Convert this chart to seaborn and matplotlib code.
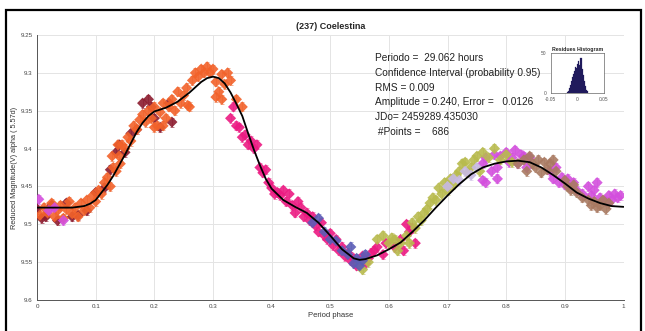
import pandas as pd
import numpy as np
import matplotlib
matplotlib.use("Agg")
import matplotlib.pyplot as plt
import seaborn as sns
from matplotlib.patches import Rectangle

# fitted Fourier curve
fit_phase = [0, 0.02, 0.04, 0.06, 0.08, 0.09, 0.1, 0.11, 0.12, 0.13, 0.14, 0.15, 0.16, 0.17,
             0.18, 0.19, 0.2, 0.22, 0.24, 0.26, 0.28, 0.29, 0.30, 0.31, 0.32, 0.33, 0.34, 0.35,
             0.36, 0.37, 0.38, 0.39, 0.40, 0.42, 0.44, 0.46, 0.48, 0.50, 0.52, 0.54, 0.55, 0.56,
             0.58, 0.60, 0.62, 0.64, 0.66, 0.68, 0.70, 0.72, 0.74, 0.76, 0.78, 0.80, 0.82, 0.84,
             0.86, 0.88, 0.90, 0.92, 0.94, 0.96, 0.98, 1.0]
fit_mag = [9.478, 9.478, 9.478, 9.478, 9.476, 9.473, 9.468, 9.458, 9.448, 9.436, 9.422, 9.408,
           9.393, 9.378, 9.366, 9.357, 9.351, 9.346, 9.338, 9.326, 9.312, 9.307, 9.305, 9.307,
           9.314, 9.326, 9.341, 9.357, 9.380, 9.402, 9.422, 9.440, 9.453, 9.468, 9.477, 9.485,
           9.498, 9.515, 9.533, 9.545, 9.547, 9.546, 9.541, 9.533, 9.524, 9.510, 9.495, 9.478,
           9.462, 9.447, 9.434, 9.425, 9.420, 9.417, 9.416, 9.418, 9.425, 9.435, 9.446, 9.458,
           9.466, 9.472, 9.476, 9.477]

# observation sessions (phase, reduced magnitude)
orange_phase = [0.005, 0.012, 0.018, 0.025, 0.03, 0.035, 0.04, 0.045, 0.05, 0.055, 0.06, 0.065,
                0.07, 0.075, 0.08, 0.085, 0.09, 0.095, 0.1, 0.105, 0.11, 0.115, 0.12, 0.125, 0.128,
                0.13, 0.135, 0.138, 0.14, 0.142, 0.145, 0.15, 0.155, 0.16, 0.165, 0.17, 0.175, 0.18,
                0.185, 0.19, 0.195, 0.2, 0.2, 0.205, 0.21, 0.215, 0.215, 0.22, 0.225, 0.23, 0.235,
                0.24, 0.245, 0.25, 0.255, 0.257, 0.26, 0.265, 0.27, 0.275, 0.28, 0.285, 0.29, 0.295,
                0.30, 0.305, 0.305, 0.31, 0.315, 0.315, 0.32, 0.325, 0.33, 0.34, 0.35]
orange_mag = [9.488, 9.478, 9.485, 9.472, 9.49, 9.482, 9.475, 9.492, 9.48, 9.47, 9.486, 9.478,
              9.49, 9.472, 9.482, 9.468, 9.478, 9.462, 9.47, 9.455, 9.46, 9.445, 9.438, 9.45, 9.41,
              9.425, 9.43, 9.395, 9.41, 9.42, 9.395, 9.40, 9.385, 9.39, 9.37, 9.375, 9.362, 9.355,
              9.365, 9.35, 9.36, 9.345, 9.372, 9.37, 9.352, 9.34, 9.37, 9.36, 9.345, 9.335, 9.35,
              9.325, 9.34, 9.33, 9.32, 9.343, 9.345, 9.31, 9.30, 9.305, 9.295, 9.30, 9.292, 9.30,
              9.295, 9.312, 9.332, 9.325, 9.302, 9.335, 9.315, 9.30, 9.31, 9.335, 9.345]

darkred_phase = [0.0, 0.008, 0.015, 0.025, 0.035, 0.05, 0.06, 0.07, 0.085, 0.1, 0.115, 0.125,
                 0.135, 0.14, 0.15, 0.16, 0.17, 0.18, 0.19, 0.195, 0.2, 0.21, 0.225, 0.23]
darkred_mag = [9.48, 9.492, 9.49, 9.475, 9.495, 9.472, 9.49, 9.488, 9.482, 9.458, 9.452, 9.428,
               9.405, 9.395, 9.405, 9.38, 9.375, 9.34, 9.335, 9.345, 9.36, 9.372, 9.34, 9.365]

magenta_phase = [0.003, 0.02, 0.03, 0.045, 0.76, 0.76, 0.765, 0.765, 0.775, 0.78, 0.785, 0.785,
                 0.79, 0.80, 0.805, 0.81, 0.815, 0.82, 0.825, 0.83, 0.835, 0.84, 0.875, 0.88,
                 0.885, 0.89, 0.895, 0.9, 0.905, 0.91, 0.915, 0.92, 0.93, 0.94, 0.945, 0.95,
                 0.955, 0.96, 0.97, 0.975, 0.98, 0.985, 0.99, 0.995]
magenta_mag = [9.467, 9.482, 9.478, 9.495, 9.42, 9.442, 9.412, 9.445, 9.43, 9.408, 9.425, 9.44,
               9.41, 9.405, 9.418, 9.412, 9.402, 9.42, 9.408, 9.41, 9.425, 9.412, 9.43, 9.44,
               9.425, 9.445, 9.438, 9.448, 9.44, 9.452, 9.445, 9.455, 9.46, 9.45, 9.462, 9.455,
               9.445, 9.465, 9.47, 9.462, 9.468, 9.46, 9.465, 9.462]

pink_phase = [0.33, 0.335, 0.34, 0.345, 0.35, 0.355, 0.36, 0.365, 0.37, 0.375, 0.38, 0.385,
              0.39, 0.395, 0.40, 0.405, 0.41, 0.415, 0.42, 0.425, 0.43, 0.435, 0.44, 0.445,
              0.45, 0.455, 0.46, 0.465, 0.47, 0.475, 0.48, 0.485, 0.49, 0.495, 0.5, 0.505,
              0.51, 0.515, 0.52, 0.525, 0.53, 0.535, 0.54, 0.545, 0.55, 0.555, 0.56, 0.565,
              0.57, 0.575, 0.58, 0.59, 0.595, 0.61, 0.62, 0.625, 0.63, 0.635, 0.64, 0.645]
pink_mag = [9.36, 9.345, 9.37, 9.372, 9.385, 9.382, 9.395, 9.39, 9.40, 9.395, 9.425, 9.432,
            9.428, 9.445, 9.452, 9.46, 9.458, 9.462, 9.455, 9.47, 9.46, 9.475, 9.485, 9.47,
            9.478, 9.49, 9.485, 9.495, 9.49, 9.502, 9.51, 9.498, 9.515, 9.52, 9.512, 9.528,
            9.52, 9.535, 9.53, 9.542, 9.538, 9.548, 9.545, 9.555, 9.55, 9.542, 9.552, 9.545,
            9.538, 9.535, 9.53, 9.54, 9.525, 9.53, 9.52, 9.535, 9.50, 9.51, 9.505, 9.525]

navy_phase = [0.47, 0.48, 0.49, 0.5, 0.51, 0.52, 0.53, 0.535, 0.54, 0.545, 0.55, 0.555, 0.56]
navy_mag = [9.498, 9.492, 9.51, 9.52, 9.522, 9.535, 9.54, 9.53, 9.552, 9.545, 9.555, 9.548, 9.54]

lavender_phase = [0.70, 0.71, 0.72, 0.73, 0.74, 0.75]
lavender_mag = [9.45, 9.44, 9.442, 9.43, 9.435, 9.425]

olive_phase = [0.55, 0.555, 0.565, 0.58, 0.59, 0.6, 0.605, 0.61, 0.615, 0.62, 0.63, 0.635, 0.64,
               0.645, 0.65, 0.655, 0.66, 0.665, 0.67, 0.675, 0.68, 0.685, 0.69, 0.695, 0.7,
               0.705, 0.71, 0.715, 0.72, 0.725, 0.73, 0.735, 0.74, 0.745, 0.75, 0.755, 0.76,
               0.77, 0.78, 0.79, 0.8, 0.81]
olive_mag = [9.552, 9.56, 9.55, 9.52, 9.515, 9.525, 9.518, 9.52, 9.535, 9.525, 9.515, 9.525,
             9.498, 9.505, 9.49, 9.495, 9.485, 9.48, 9.472, 9.465, 9.468, 9.452, 9.46, 9.445,
             9.455, 9.44, 9.448, 9.435, 9.43, 9.42, 9.418, 9.432, 9.425, 9.415, 9.41, 9.43,
             9.405, 9.412, 9.40, 9.415, 9.408, 9.418]

brown_phase = [0.82, 0.83, 0.835, 0.84, 0.845, 0.85, 0.855, 0.86, 0.865, 0.87, 0.875, 0.88,
               0.885, 0.9, 0.905, 0.91, 0.915, 0.92, 0.93, 0.94, 0.945, 0.95, 0.955, 0.96,
               0.965, 0.97, 0.975]
brown_mag = [9.42, 9.415, 9.43, 9.41, 9.42, 9.425, 9.415, 9.432, 9.418, 9.428, 9.42, 9.415,
             9.43, 9.442, 9.45, 9.455, 9.448, 9.458, 9.465, 9.468, 9.475, 9.47, 9.478, 9.475,
             9.468, 9.48, 9.472]

# residues histogram (bin centres and counts)
res_centres = [-0.019, -0.017, -0.015, -0.013, -0.011, -0.009, -0.007, -0.005, -0.003, -0.001,
               0.001, 0.003, 0.005, 0.007, 0.009, 0.011, 0.013, 0.015, 0.017, 0.019]
res_counts = [1, 3, 6, 10, 15, 20, 24, 28, 32, 31, 36, 40, 35, 44, 30, 22, 15, 9, 4, 2]

groups = [
    ("darkred", darkred_phase, darkred_mag, "#8c1c2e", "#b06070"),
    ("orange", orange_phase, orange_mag, "#f2622a", "#f0a080"),
    ("magenta", magenta_phase, magenta_mag, "#d34fdd", "#e39ae8"),
    ("pink", pink_phase, pink_mag, "#ec1a82", "#f088b8"),
    ("olive", olive_phase, olive_mag, "#b8bb4e", "#d0d090"),
    ("lavender", lavender_phase, lavender_mag, "#c7b9e3", "#ddd2ee"),
    ("navy", navy_phase, navy_mag, "#5a5cb6", "#9a9cd6"),
    ("brown", brown_phase, brown_mag, "#a97a62", "#c8a898"),
]

sns.set_theme(style="whitegrid")
plt.rcParams['font.family'] = ['Liberation Sans', 'DejaVu Sans']

fig = plt.figure(figsize=(6.45, 3.31), dpi=100)
ax = fig.add_axes([0.0574, 0.0937, 0.9093, 0.8006])
ax.set_facecolor("white")

rows = []
for name, ph, mg, col, ecol in groups:
    ax.errorbar(ph, mg, yerr=0.006, fmt="none", ecolor=ecol, elinewidth=0.6,
                capsize=1.5, capthick=0.6, zorder=2)
    for p, m in zip(ph, mg):
        rows.append({"phase": p, "mag": m, "session": name})
df = pd.DataFrame(rows)
palette = {g[0]: g[3] for g in groups}
sns.scatterplot(data=df, x="phase", y="mag", hue="session", palette=palette, marker="D",
                s=32, edgecolor="none", alpha=0.9, legend=False, ax=ax, zorder=3)

sns.lineplot(x=fit_phase, y=fit_mag, color="black", linewidth=1.3, ax=ax, zorder=4)

ax.set_xlim(0, 1)
ax.set_ylim(9.6, 9.25)
ax.set_xticks(np.arange(0, 1.01, 0.1))
ax.set_xticklabels(["0", "0.1", "0.2", "0.3", "0.4", "0.5", "0.6", "0.7", "0.8", "0.9", "1"])
ax.set_yticks([9.25, 9.3, 9.35, 9.4, 9.45, 9.5, 9.55, 9.6])
ax.set_yticklabels(["9.25", "9.3", "9.35", "9.4", "9.45", "9.5", "9.55", "9.6"])
ax.tick_params(labelsize=4.5, colors="#444444", length=2, direction="in", pad=3)
ax.grid(True, color="#e4e4e4", linewidth=0.7)
for side in ["top", "right"]:
    ax.spines[side].set_visible(False)
for side in ["left", "bottom"]:
    ax.spines[side].set_color("#555555")
    ax.spines[side].set_linewidth(0.7)
ax.set_xlabel("Period phase", fontsize=5.5, color="#333333", labelpad=2)
ax.set_ylabel("Reduced Magnitude(V) alpha ( 5.57d)", fontsize=5.3, color="#333333", labelpad=2)
ax.set_title("(237) Coelestina", fontsize=6.5, fontweight="bold", pad=4)

info = ("Periodo =  29.062 hours\n"
        "Confidence Interval (probability 0.95)\n"
        "RMS = 0.009\n"
        "Amplitude = 0.240, Error =   0.0126\n"
        "JDo= 2459289.435030\n"
        " #Points =    686")
fig.text(0.581, 0.84, info, fontsize=7.3, va="top", ha="left", color="#222222",
         linespacing=1.6)

# inset histogram of residues
res_df = pd.DataFrame({"res": res_centres, "n": res_counts})
axh = fig.add_axes([0.854, 0.719, 0.082, 0.121])
axh.set_facecolor("white")
sns.histplot(data=res_df, x="res", weights="n", binwidth=0.002, binrange=(-0.02, 0.02),
             color="#201a5c", edgecolor="#201a5c", alpha=1, ax=axh)
axh.set_xlim(-0.05, 0.05)
axh.set_ylim(0, 50)
axh.set_xticks([-0.05, 0, 0.05])
axh.set_xticklabels(["-0.05", "0", "0.05"])
axh.set_yticks([0, 50])
axh.grid(False)
axh.tick_params(labelsize=3.5, colors="#555555", length=1.5, pad=1.5)
axh.set_ylabel("")
axh.set_xlabel("")
for s in axh.spines.values():
    s.set_color("#666666")
    s.set_linewidth(0.5)
axh.set_title("Residues Histogram", fontsize=3.8, fontweight="bold", pad=1.5)

# outer frame
fig.patches.append(Rectangle((0.0093, -0.02), 0.9845, 0.99, transform=fig.transFigure,
                             fill=False, edgecolor="black", linewidth=1.6))

fig.savefig("out.png", dpi=100)
